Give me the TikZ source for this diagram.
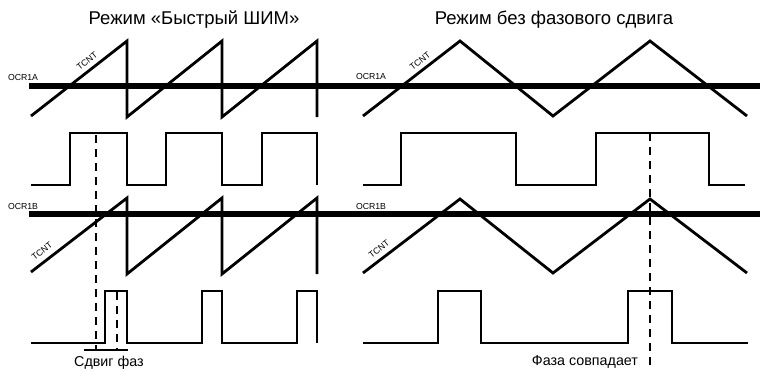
\documentclass[tikz,border=0pt]{standalone}
\usepackage{fontspec}
\setmainfont{Liberation Sans}
\begin{document}
\begin{tikzpicture}[x=1pt,y=-1pt,
  sig/.style={line width=2.8pt, line join=miter},
  refline/.style={line width=5.5pt},
  dsh/.style={line width=2.8pt, dash pattern=on 8pt off 6pt},
  title/.style={font=\fontsize{18.5}{21}\selectfont, inner sep=0pt},
  capt/.style={font=\fontsize{14.3}{16}\selectfont, inner sep=0pt},
  lbl/.style={font=\fontsize{8.7}{10}\selectfont, inner sep=0pt},
  tlbl/.style={font=\fontsize{8.8}{10}\selectfont, inner sep=0pt, rotate=38}]
\useasboundingbox (0,0) rectangle (760,370);
\fill[white] (0,0) rectangle (760,370);

% titles
\node[title] (t1) at (194,20) {Режим «Быстрый ШИМ»};
\node[title] (t2) at (554,20) {Режим без фазового сдвига};

% reference levels
\draw[refline] (29,86) -- (760,86);
\draw[refline] (29,214) -- (760,214);

% left: fast PWM
\draw[sig] (31,116) -- (127,41) -- (127,117) -- (222,41) -- (222,117) -- (317,41) -- (317,117);
\draw[sig] (31,185) -- (70,185) -- (70,133) -- (127,133) -- (127,185) -- (166,185) -- (166,133)
  -- (222,133) -- (222,185) -- (262,185) -- (262,133) -- (317,133) -- (317,185);
\draw[sig] (31,272) -- (127,198) -- (127,274) -- (222,198) -- (222,274) -- (317,198) -- (317,274);
\draw[sig] (31,343) -- (105,343) -- (105,291) -- (127,291) -- (127,343) -- (202,343) -- (202,291)
  -- (222,291) -- (222,343) -- (297,343) -- (297,291) -- (317,291) -- (317,343);

% right: phase correct
\draw[sig] (363,116) -- (460,41) -- (553,116) -- (650,41) -- (747,116);
\draw[sig] (363,185) -- (401,185) -- (401,133) -- (516,133) -- (516,185) -- (596,185) -- (596,133)
  -- (709,133) -- (709,185) -- (745,185);
\draw[sig] (363,273) -- (460,199) -- (553,273) -- (650,199) -- (747,273);
\draw[sig] (363,343) -- (438,343) -- (438,291) -- (481,291) -- (481,343) -- (628,343) -- (628,291)
  -- (672,291) -- (672,343) -- (748,343);

% dashed markers
\coordinate (d1t) at (96,135);
\coordinate (d1b) at (96,350);
\coordinate (d2t) at (117,292);
\coordinate (d2b) at (117,350);
\coordinate (bl) at (84,350);
\coordinate (br) at (128,350);
\draw[dsh] (d1t) -- (d1b);
\draw[dsh] (d2t) -- (d2b);
\draw[sig] (bl) -- (br);
\coordinate (d3t) at (650,133);
\coordinate (d3b) at (650,370);
\draw[dsh] (d3t) -- (d3b);

% labels
\node[lbl] (la1) at (23,78) {OCR1A};
\node[lbl] (la2) at (371,77) {OCR1A};
\node[lbl] (lb1) at (23,207) {OCR1B};
\node[lbl] (lb2) at (371,207) {OCR1B};
\node[tlbl] (tc1) at (87,61) {TCNT};
\node[tlbl] (tc2) at (42,251) {TCNT};
\node[tlbl] (tc3) at (420,61) {TCNT};
\node[tlbl] (tc4) at (379,249) {TCNT};
\node[capt] (c1) at (109,363) {Сдвиг фаз};
\node[capt] (c2) at (585,362) {Фаза совпадает};
\end{tikzpicture}
\end{document}
